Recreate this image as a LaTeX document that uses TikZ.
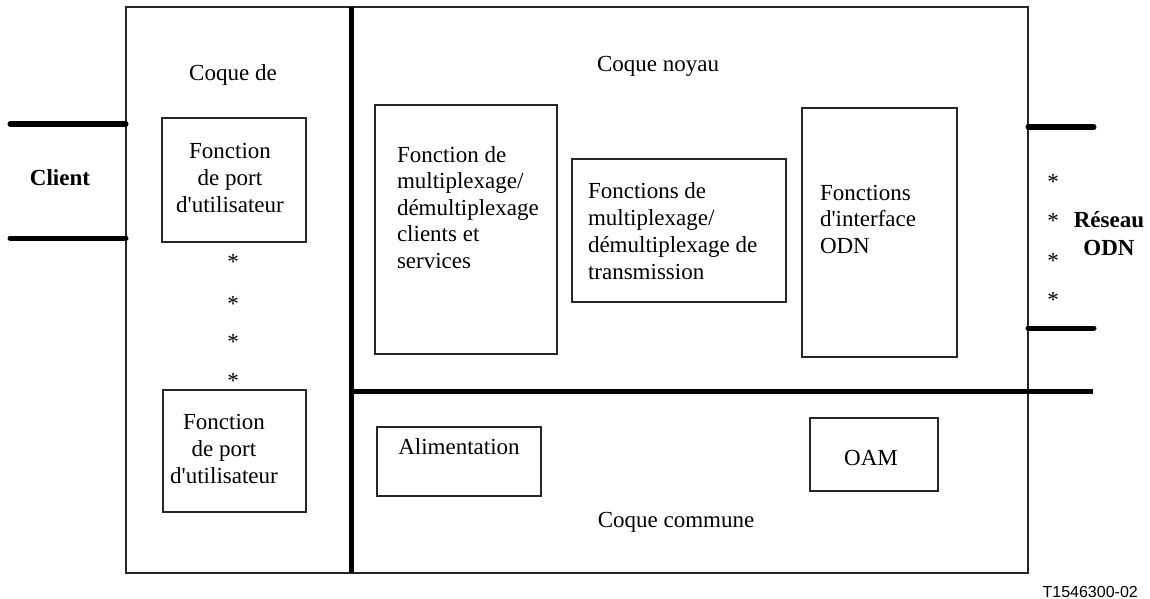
\documentclass[tikz,border=0pt]{standalone}
\usepackage{fontspec}
\setmainfont{Liberation Serif}[Ligatures=TeXOff]
\newfontfamily\refsans{Liberation Sans}
\begin{document}
\begin{tikzpicture}[x=1pt,y=-1pt,
  frame/.style={draw=black!85, line width=1.1pt},
  fbox/.style={frame, anchor=north west, inner sep=0pt, outer sep=0pt},
  txt/.style={font=\fontsize{23}{27}\selectfont, inner sep=0pt, outer sep=0pt},
  btxt/.style={txt, font=\fontsize{23}{28}\selectfont\bfseries},
  bus/.style={line width=5pt, line cap=round},
  divider/.style={line width=5pt},
  star/.style={txt, anchor=base},
]
\useasboundingbox (0,0) rectangle (1150,599);

% outer equipment frame and the shell dividers
\node[fbox, minimum width=902, minimum height=566] (shell) at (126,7) {};
\coordinate (vtop) at (351,7);
\coordinate (vbot) at (351,573);
\coordinate (hleft) at (351,391);
\coordinate (hright) at (1093,391);
\draw[divider] (vtop) -- (vbot);
\draw[divider] (hleft) -- (hright);

% client side connections
\coordinate (cl1) at (10,124);
\coordinate (cr1) at (126,124);
\coordinate (cl2) at (10,238);
\coordinate (cr2) at (126,238);
\draw[bus] (cl1) -- (cr1);
\draw[bus] (cl2) -- (cr2);
\node[btxt, anchor=base] (client) at (60,185) {Client};

% ODN side connections
\coordinate (ol1) at (1028,127);
\coordinate (or1) at (1094,127);
\coordinate (ol2) at (1028,328);
\coordinate (or2) at (1094,328);
\draw[bus] (ol1) -- (or1);
\draw[bus] (ol2) -- (or2);
% multi-line nodes sit on the baseline of their last line
\node[btxt, anchor=base, align=center] (odn) at (1109,255) {Réseau\\ODN};
\foreach \y [count=\i] in {179,218,258,297}
  \node[star] (ostar\i) at (1053,\y+10.8) {*};

% user port shell
\node[txt, anchor=base] (coquede) at (233,81) {Coque de};
\node[fbox, minimum width=144, minimum height=124] (port1) at (162,118) {};
\node[txt, anchor=base, align=center] (port1txt) at (230,212) {Fonction\\de port\\d'utilisateur};
\foreach \y [count=\i] in {259,301,339,378}
  \node[star] (pstar\i) at (233,\y+10.8) {*};
\node[fbox, minimum width=143, minimum height=122] (port2) at (163,390) {};
\node[txt, anchor=base, align=center] (port2txt) at (224,483) {Fonction\\de port\\d'utilisateur};

% core shell
\node[txt, anchor=base] (noyau) at (658,72) {Coque noyau};
\node[fbox, minimum width=182, minimum height=249] (mux1) at (375,105) {};
\node[txt, font=\fontsize{23}{26.5}\selectfont, anchor=base west, align=left] (mux1txt) at (397,268)
  {Fonction de\\multiplexage/\\démultiplexage\\clients et\\services};
\node[fbox, minimum width=214, minimum height=143] (mux2) at (572,159) {};
\node[txt, anchor=base west, align=left] (mux2txt) at (588,279)
  {Fonctions de\\multiplexage/\\démultiplexage de\\transmission};
\node[fbox, minimum width=155, minimum height=249] (odnif) at (802,108) {};
\node[txt, font=\fontsize{23}{26.5}\selectfont, anchor=base west, align=left] (odniftxt) at (820,253)
  {Fonctions\\d'interface\\ODN};

% common shell
\node[fbox, minimum width=164, minimum height=69] (power) at (377,427) {};
\node[txt, anchor=base] (powertxt) at (459,454) {Alimentation};
\node[fbox, minimum width=128, minimum height=73] (oam) at (810,418) {};
\node[txt, anchor=base] (oamtxt) at (871,465) {OAM};
\node[txt, anchor=base] (commune) at (676,527) {Coque commune};

% figure reference
\node[anchor=base east, inner sep=0pt, font=\refsans\fontsize{16}{18}\selectfont] (ref) at (1138,597) {T1546300-02};
\end{tikzpicture}
\end{document}
